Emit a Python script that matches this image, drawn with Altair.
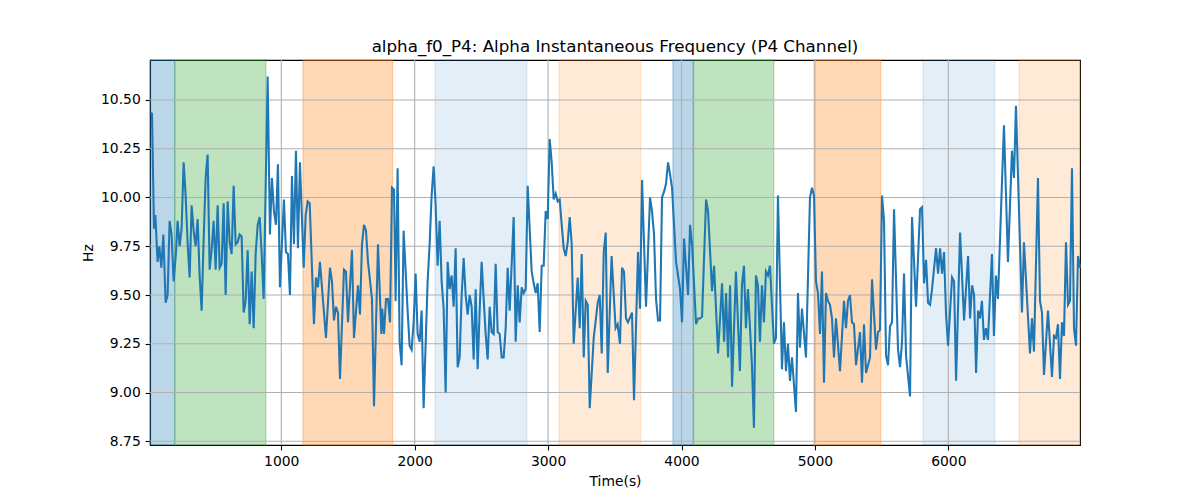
import altair as alt
import pandas as pd

# ---- line data (time in s, frequency in Hz) ----
times = [
    16, 31, 46, 56, 73, 86, 101, 116, 133, 148, 163, 178, 193, 211, 223, 238, 253, 268, 283, 298,
    313, 328, 343, 358, 373, 388, 403, 418, 433, 448, 463, 478, 493, 508, 523, 538, 553, 568, 583, 598,
    613, 628, 643, 658, 673, 688, 703, 718, 733, 748, 763, 778, 793, 808, 823, 838, 853, 868, 898,
    915, 930, 945, 960, 975, 990, 1020, 1035, 1050, 1065, 1080, 1095, 1110, 1125, 1140, 1168, 1183,
    1198, 1213, 1245, 1260, 1275, 1290, 1335, 1365, 1380, 1395, 1410, 1425, 1440, 1470, 1485, 1500,
    1530, 1545, 1575, 1590, 1605, 1620, 1635, 1650, 1680, 1695, 1725,
    1750, 1757, 1770, 1785, 1800, 1815, 1830, 1845, 1857, 1872, 1887, 1902, 1917, 1947, 1962, 1977,
    1992, 2007, 2022, 2037, 2052, 2067, 2097, 2112, 2127, 2142, 2157, 2172, 2187, 2202, 2217, 2232,
    2247, 2262, 2277, 2292, 2307, 2322, 2337, 2352, 2367, 2382, 2397, 2412, 2427, 2442, 2457, 2472,
    2487, 2502, 2517, 2532, 2547, 2562, 2577, 2592, 2607, 2622, 2637, 2652, 2667, 2682, 2697,
    2712, 2742, 2757, 2772, 2787, 2802, 2817, 2832, 2847, 2877, 2892, 2907, 2922, 2937, 2952, 2967,
    2982, 2997, 3012, 3027, 3042, 3057, 3072, 3087, 3102, 3117, 3132, 3147, 3162, 3177, 3192, 3222,
    3237, 3252, 3267, 3282, 3297, 3312, 3342, 3372, 3387, 3402, 3417, 3432, 3447, 3476, 3506, 3521,
    3539, 3554, 3569, 3584, 3599, 3629, 3644, 3674, 3689, 3704, 3734, 3764, 3779, 3794, 3809, 3824,
    3839, 3854, 3869, 3884, 3899, 3914, 3929, 3959, 3974, 3989, 4004, 4019, 4049, 4064, 4079, 4109,
    4124, 4139, 4154, 4184, 4199, 4229, 4244, 4274, 4304, 4319, 4334, 4349, 4364, 4379, 4408,
    4438, 4453, 4468, 4483, 4498, 4528, 4543, 4558, 4573, 4588, 4603, 4618, 4633, 4648, 4663, 4693,
    4708, 4723, 4753, 4768, 4783, 4798, 4813, 4828, 4858, 4873, 4888, 4903, 4933, 4963, 4978, 4993,
    5008, 5023, 5038, 5053, 5068, 5083, 5098, 5113, 5128, 5143, 5158, 5188, 5218, 5233, 5248, 5263,
    5278, 5293, 5308,
    5338, 5353, 5368, 5383, 5413, 5428, 5458, 5473, 5488, 5503, 5518, 5533, 5548, 5563, 5578, 5593,
    5623, 5638, 5653, 5668, 5683, 5713, 5728, 5758, 5788, 5803, 5818, 5833, 5848, 5863, 5878, 5908,
    5923, 5938, 5953, 5968, 5983, 5998, 6028, 6043, 6058, 6088, 6118, 6148, 6163, 6178, 6193, 6208,
    6223,
    6237, 6252, 6267, 6282, 6297, 6327, 6342, 6357, 6372, 6417, 6447, 6477, 6492, 6507, 6552, 6567,
    6612, 6627, 6642, 6672, 6687, 6702, 6717, 6747, 6777, 6792, 6807, 6822, 6837, 6852, 6867, 6882,
    6897, 6912, 6927, 6942, 6957, 6972, 6987,
]
hz = [
    10.44, 10.43, 9.84, 9.91, 9.67, 9.75, 9.64, 9.81, 9.46, 9.50, 9.88, 9.81, 9.57, 9.72, 9.88, 9.75,
    9.84, 10.18, 10.01, 9.77, 9.59, 9.96, 9.83, 9.75, 9.89, 9.60, 9.42, 9.78, 10.10, 10.22, 9.63, 9.73,
    9.88, 9.63, 9.96, 9.64, 9.66, 9.97, 9.50, 9.98, 9.77, 9.71, 10.06, 9.76, 9.77, 9.81, 9.80, 9.41,
    9.47, 9.73, 9.35, 9.62, 9.33, 9.71, 9.86, 9.90, 9.71, 9.48, 10.62,
    9.81, 10.10, 9.93, 9.86, 10.17, 9.54, 9.99, 9.72, 9.71, 9.50, 10.11, 9.76, 10.24, 9.74, 10.18,
    9.64, 9.91, 9.98, 9.97, 9.35, 9.59, 9.54, 9.67, 9.28, 9.64, 9.57, 9.37, 9.44, 9.41, 9.07, 9.63,
    9.62, 9.36, 9.73, 9.28, 9.55, 9.40, 9.76, 9.86, 9.83, 9.67, 9.48, 8.93, 9.76,
    9.30, 9.43, 9.30, 9.48, 9.48, 9.36, 10.05, 10.04, 9.47, 10.15, 9.26, 9.14, 9.83, 9.42, 9.24, 9.22,
    9.36, 9.61, 9.30, 9.26, 9.42, 8.92, 9.57, 9.76, 10.01, 10.16, 9.96, 9.65, 9.88, 9.57, 9.43, 9.00,
    9.67, 9.53, 9.60, 9.44, 9.74, 9.13, 9.18, 9.50, 9.69, 9.50, 9.40, 9.50, 9.44, 9.17, 9.53, 9.12,
    9.42, 9.67, 9.48, 9.30, 9.17, 9.44, 9.31, 9.30, 9.66, 9.31, 9.30, 9.18, 9.18, 9.33, 9.64,
    9.42, 9.90, 9.26, 9.55, 9.36, 9.54, 9.51, 9.53, 10.06, 9.62, 9.56, 9.51, 9.56, 9.31, 9.65, 9.65,
    9.93, 9.89, 10.30, 10.18, 9.99, 10.02, 9.98, 9.99, 9.86, 9.74, 9.70, 9.77, 9.90, 9.76, 9.25, 9.59,
    9.33, 9.71, 9.18, 9.47, 9.45, 8.92, 9.28, 9.46, 9.50, 9.20, 9.72, 9.82, 9.10, 9.70, 9.33, 9.35,
    9.25, 9.64, 9.62, 9.38, 9.36, 9.41, 8.96, 9.72, 9.43, 10.09, 9.44, 10.00, 9.93, 9.81, 9.48, 9.37,
    9.37, 10.00, 10.03, 10.07, 10.18, 10.12, 10.05, 9.67, 9.60, 9.53, 9.36, 9.79, 9.50, 9.86, 9.76, 9.35,
    9.38, 9.38, 9.39, 9.99, 9.93, 9.52, 9.65, 9.20, 9.56, 9.26, 9.51, 9.18, 9.55, 9.03, 9.62,
    9.11, 9.55, 9.65, 9.33, 9.53, 9.14, 8.82, 9.60, 9.55, 9.26, 9.55, 9.36, 9.62, 9.60, 9.65, 9.25,
    9.28, 10.01, 9.12, 9.36, 9.11, 9.25, 9.06, 9.18, 8.90, 9.51, 9.23, 9.43, 9.18, 10.00, 10.05, 10.01,
    9.57, 9.51, 9.30, 9.62, 9.05, 9.51, 9.47, 9.45, 9.38, 9.18, 9.38, 9.11, 9.47, 9.33, 9.47, 9.50,
    9.36, 9.35, 9.14,
    9.31, 9.05, 9.35, 9.10, 9.18, 9.58, 9.22, 9.31, 9.32, 10.01, 9.88, 9.19, 9.14, 9.34, 9.36, 9.94,
    9.22, 9.13, 9.26, 9.61, 9.19, 8.98, 9.90, 9.44, 9.94, 9.95, 9.56, 9.68, 9.46, 9.45, 9.53, 9.74,
    9.61, 9.74, 9.61, 9.72, 9.40, 9.24, 9.59, 9.57, 9.06, 9.82, 9.37, 9.70, 9.38, 9.55, 9.50, 9.10,
    9.42,
    9.38, 9.47, 9.27, 9.33, 9.27, 9.71, 9.29, 9.60, 9.48, 10.37, 9.67, 10.24, 10.10, 10.47, 9.41, 9.77,
    9.20, 9.38, 9.21, 10.10, 9.47, 9.41, 9.09, 9.42, 9.08, 9.29, 9.28, 9.35, 9.07, 9.36, 9.29, 9.77,
    9.45, 9.47, 10.15, 9.33, 9.24, 9.70, 9.64,
]

# ---- shaded segments ----
band_start = [16, 201, 1163, 2152, 3082, 3936, 4089, 4993, 5810, 6530]
band_end = [201, 884, 1835, 2840, 3694, 4089, 4691, 5493, 6348, 6987]
band_color = ["#1f77b4", "#2ca02c", "#ff7f0e", "#1f77b4", "#ff7f0e",
              "#1f77b4", "#2ca02c", "#ff7f0e", "#1f77b4", "#ff7f0e"]
band_alpha = [0.3, 0.3, 0.3, 0.12, 0.16, 0.3, 0.3, 0.3, 0.12, 0.16]

y_ticks = [8.75, 9.0, 9.25, 9.5, 9.75, 10.0, 10.25, 10.5]
x_ticks = [1000, 2000, 3000, 4000, 5000, 6000]

x_domain = [16, 6987]
y_domain = [8.731, 10.705]

line_df = pd.DataFrame({"t": times, "hz": hz})
band_df = pd.DataFrame({"start": band_start, "end": band_end,
                        "color": band_color, "alpha": band_alpha})
ygrid_df = pd.DataFrame({"hz": y_ticks})
xgrid_df = pd.DataFrame({"t": x_ticks})

xs = alt.Scale(domain=x_domain, nice=False, zero=False)
ys = alt.Scale(domain=y_domain, nice=False, zero=False)

FONT = "DejaVu Sans"

x_axis = alt.Axis(values=x_ticks, format="d", titlePadding=6)
y_axis = alt.Axis(values=y_ticks, format=".2f", titlePadding=5.5)

bands = alt.Chart(band_df).mark_rect(strokeWidth=1.4).encode(
    x=alt.X("start:Q", scale=xs, axis=x_axis, title="Time(s)"),
    x2="end:Q",
    y=alt.value(0),
    y2=alt.value(385),
    fill=alt.Color("color:N", scale=None, legend=None),
    stroke=alt.Color("color:N", scale=None, legend=None),
    fillOpacity=alt.FillOpacity("alpha:Q", scale=None, legend=None),
    strokeOpacity=alt.StrokeOpacity("alpha:Q", scale=None, legend=None),
)

ygrid = alt.Chart(ygrid_df).mark_rule(color="#b0b0b0", strokeWidth=1.1).encode(
    y=alt.Y("hz:Q", scale=ys, axis=y_axis, title="Hz")
)
xgrid = alt.Chart(xgrid_df).mark_rule(color="#b0b0b0", strokeWidth=1.1).encode(
    x=alt.X("t:Q", scale=xs, axis=x_axis, title="Time(s)")
)

line = alt.Chart(line_df).mark_line(color="#1f77b4", strokeWidth=2.08).encode(
    x=alt.X("t:Q", scale=xs, axis=x_axis, title="Time(s)"),
    y=alt.Y("hz:Q", scale=ys, axis=y_axis, title="Hz"),
)

chart = alt.layer(bands, ygrid, xgrid, line).properties(
    width=930,
    height=385,
    background="white",
    autosize=alt.AutoSizeParams(type="none"),
    padding={"left": 142, "top": 52, "right": 100, "bottom": 47},
    title=alt.TitleParams(
        "alpha_f0_P4: Alpha Instantaneous Frequency (P4 Channel)",
        font=FONT, fontSize=16.7, fontWeight="normal", color="black",
        anchor="middle", offset=4,
    ),
).configure_view(
    stroke="black", strokeWidth=1.1
).configure_axis(
    grid=False,
    domain=True, domainColor="black", domainWidth=1.1,
    ticks=True, tickColor="black", tickWidth=1.1, tickSize=4.86,
    labelFont=FONT, labelFontSize=13.9, labelColor="black", labelPadding=4.86,
    titleFont=FONT, titleFontSize=13.9, titleFontWeight="normal", titleColor="black",
)

chart.save("out.html", embed_options={"renderer": "svg", "actions": False})
